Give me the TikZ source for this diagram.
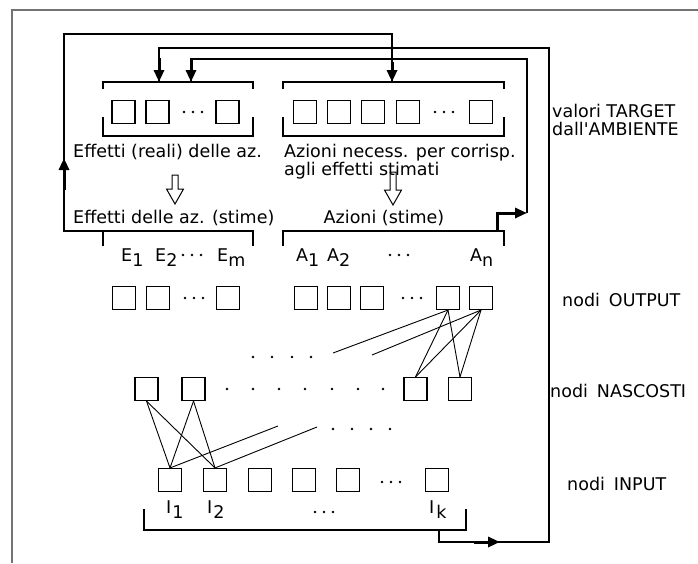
\documentclass[tikz,border=0pt]{standalone}
\usepackage{fontspec}
\setmainfont{DejaVu Sans}
\usetikzlibrary{arrows.meta,calc}
\newcommand\lo[1]{\raisebox{-5pt}{#1}}

\begin{document}
\begin{tikzpicture}[
    x=1pt, y=-1pt,
    cell/.style={draw, line width=1.1pt, minimum size=23pt, inner sep=0pt},
    lbl/.style={font=\fontsize{17.5}{15}\selectfont, inner sep=0pt},
    wire/.style={line width=1.2pt},
    link/.style={line width=0.9pt},
    fat/.style={line width=3pt, -{Triangle[length=12pt,width=10pt]}},
    hollow/.style={draw, line width=1pt, line join=miter}
]
    \useasboundingbox (0,0) rectangle (698,563);
    % cornice
    \draw[black!55, line width=1.4pt] (698,10) -- (12,10) -- (12,563);

    % valori target
    \foreach \x [count=\i] in {123.5,157.5,227.5}
        \node[cell] (re\i) at (\x,112) {};
    \foreach \x [count=\i] in {305,339,373,408,481}
        \node[cell] (an\i) at (\x,112) {};

    \draw[wire] (103,89) -- (103,82) -- (253,82) -- (253,89);
    \draw[wire] (103,117) -- (103,136) -- (253,136) -- (253,117);
    \draw[wire] (283,89) -- (283,82) -- (504,82) -- (504,89);
    \draw[wire] (283,117) -- (283,136) -- (504,136) -- (504,117);

    \node[lbl, anchor=base west] (effr) at (73,157) {Effetti (reali) delle az.};
    \node[lbl, anchor=base west] (azn1) at (284,157) {Azioni necess. per corrisp.};
    \node[lbl, anchor=base west] (azn2) at (284,175) {agli effetti stimati};
    \node[lbl, anchor=base west] (trg1) at (552,117) {valori TARGET};
    \node[lbl, anchor=base west] (trg2) at (552,135) {dall\textquotesingle AMBIENTE};

    % frecce vuote
    \draw[hollow] (172,175) -- (178,175) -- (178,189) -- (183.5,189) -- (175,204)
        -- (166.5,189) -- (172,189) -- cycle;
    \draw[hollow] (390,172) -- (396,172) -- (396,190) -- (401.5,190) -- (393,205)
        -- (384.5,190) -- (390,190) -- cycle;

    % stime
    \node[lbl, anchor=base west] (effs) at (73,223) {Effetti delle az. (stime)};
    \node[lbl, anchor=base] (azs) at (384,223) {Azioni (stime)};
    \draw[wire] (103,246) -- (103,231) -- (253,231) -- (253,246);
    \draw[wire] (283,246) -- (283,231) -- (504,231) -- (504,246);

    \node[lbl, anchor=base west] (le1) at (121,261) {E\lo{1}};
    \node[lbl, anchor=base west] (le2) at (155,261) {E\lo{2}};
    \node[lbl, anchor=base west] (lem) at (217,261) {E\lo{m}};
    \node[lbl, anchor=base west] (la1) at (296,261) {A\lo{1}};
    \node[lbl, anchor=base west] (la2) at (327,261) {A\lo{2}};
    \node[lbl, anchor=base west] (lan) at (470,261) {A\lo{n}};

    % nodi output
    \foreach \x [count=\i] in {124,158,228}
        \node[cell] (eo\i) at (\x,298) {};
    \foreach \x [count=\i] in {306,339,372,448,481}
        \node[cell] (ao\i) at (\x,298) {};
    \node[lbl, anchor=base west] (nout) at (562,306) {nodi\hspace{9pt}OUTPUT};

    % nodi nascosti
    \foreach \x [count=\i] in {146.5,193.5,415.5,460}
        \node[cell] (h\i) at (\x,389) {};
    \node[lbl, anchor=base west] (nhid) at (550,397) {nodi\hspace{9pt}NASCOSTI};

    % nodi input
    \foreach \x [count=\i] in {170,215,260,304,348,437}
        \node[cell] (in\i) at (\x,480) {};
    \node[lbl, anchor=base west] (nin) at (567,490) {nodi\hspace{9pt}INPUT};

    \node[lbl, anchor=base west] (li1) at (166,513) {I\kern1pt\lo{1}};
    \node[lbl, anchor=base west] (li2) at (207,513) {I\kern1pt\lo{2}};
    \node[lbl, anchor=base west] (lik) at (429,513) {I\kern2pt\lo{k}};
    \draw[wire] (144,509) -- (144,530) -- (466,530) -- (466,509);

    % puntini
    \foreach \x/\y in {193/112, 444/112, 192/255, 399/255, 194/298, 412/298,
                       391/482, 324/512}
        \foreach \d in {-9,0,9}
            \fill (\x+\d,\y) circle (1.3pt);
    \foreach \x in {227,253,279,305,332,358,383}
        \fill (\x,389) circle (1.4pt);
    \foreach \x in {253,272,292,311}
        \fill (\x,357) circle (1.4pt);
    \foreach \x in {333,352,371,390}
        \fill (\x,429) circle (1.4pt);

    % collegamenti
    \foreach \a in {ao4,ao5}
        \foreach \b in {h3,h4}
            \draw[link] (\a.south) -- (\b.north);
    \foreach \a in {h1,h2}
        \foreach \b in {in1,in2}
            \draw[link] (\a.south) -- (\b.north);
    \coordinate (fo4) at (333,353);
    \coordinate (fo5) at (372,355);
    \coordinate (fi1) at (278,426);
    \coordinate (fi2) at (317,427);
    \draw[link] (ao4.south) -- (fo4);
    \draw[link] (ao5.south) -- (fo5);
    \draw[link] (in1.north) -- (fi1);
    \draw[link] (in2.north) -- (fi2);

    % retroazioni
    \coordinate (esE) at (103,231);
    \coordinate (esA) at (497,231);
    \coordinate (inb) at (439,530);
    \coordinate (tA) at (392,82);
    \coordinate (tE1) at (159,82);
    \coordinate (tE2) at (191,82);

    \draw[wire] (esE) -- (64,231) -- (64,34) -| (tA);
    \draw[wire] (inb) |- (549,542) -- (549,48) -| (tE1);
    \draw[wire] (527,213) -- (527,59) -| (tE2);

    \draw[fat] (64,190) -- (64,158);
    \draw[fat] ($(tA)+(0,-20)$) -- (tA);
    \draw[fat] ($(tE1)+(0,-24)$) -- (tE1);
    \draw[fat] ($(tE2)+(0,-22)$) -- (tE2);
    \draw[fat] (474,542) -- (500,542);
    \draw[fat] (esA) |- (527,213);
\end{tikzpicture}
\end{document}
